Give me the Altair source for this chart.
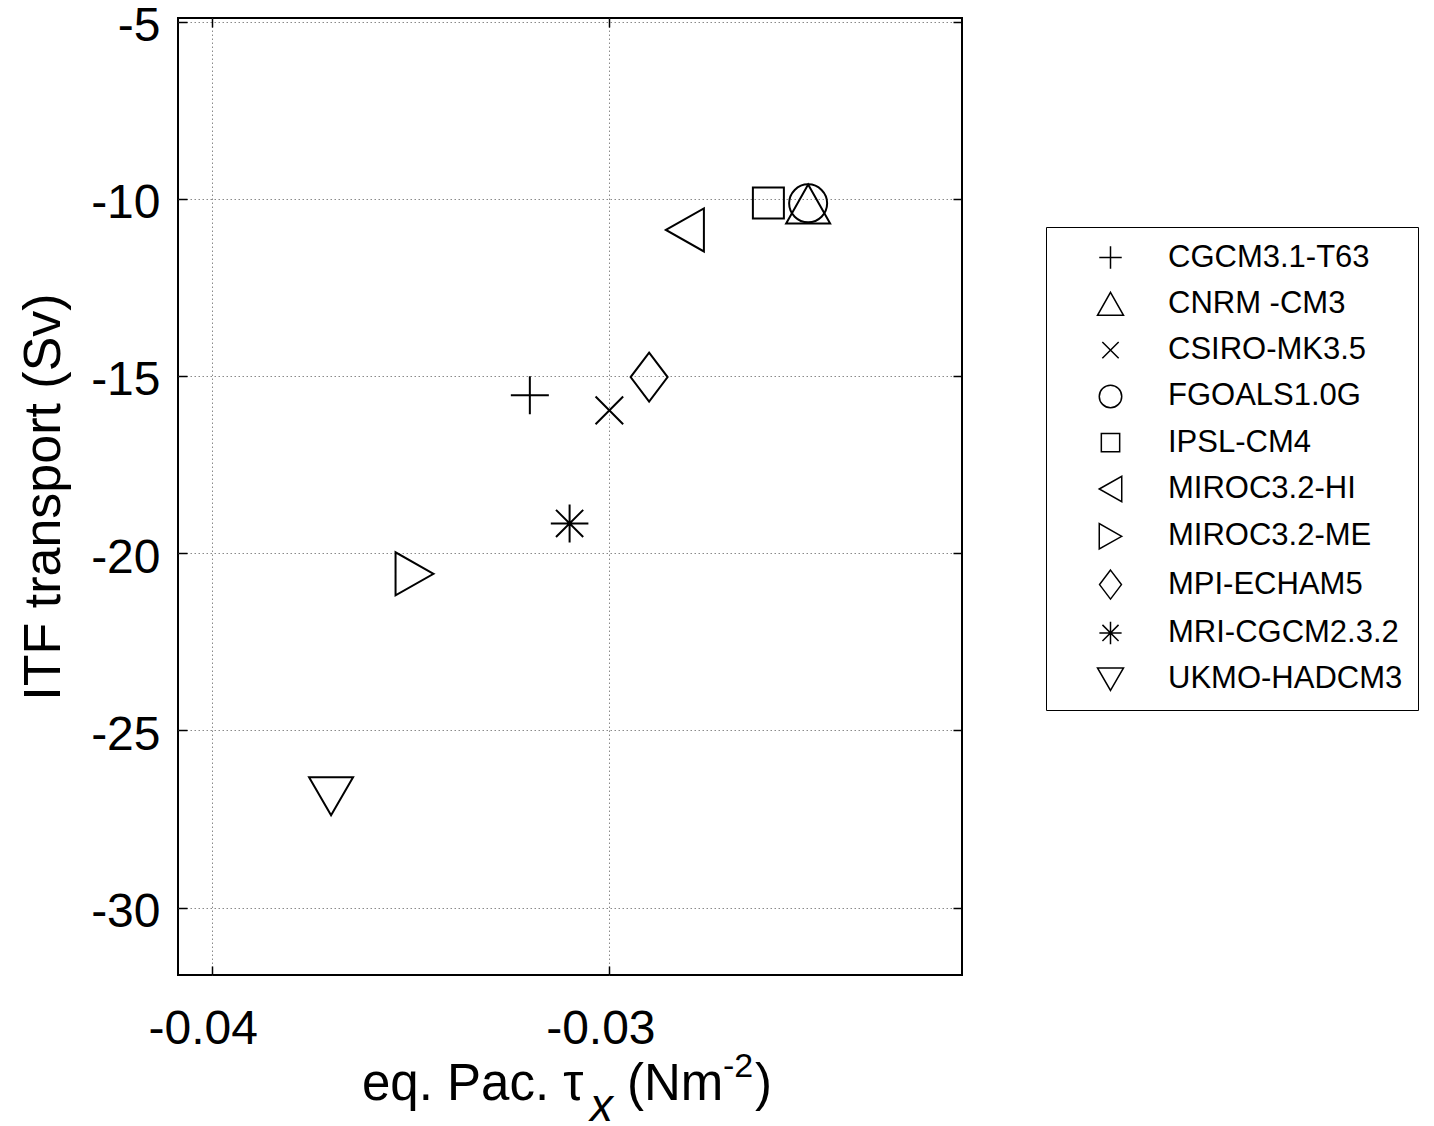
import altair as alt
import pandas as pd

models = ["CGCM3.1-T63", "CNRM -CM3", "CSIRO-MK3.5", "FGOALS1.0G", "IPSL-CM4",
          "MIROC3.2-HI", "MIROC3.2-ME", "MPI-ECHAM5", "MRI-CGCM2.3.2", "UKMO-HADCM3"]
tau_x = [-0.0320, -0.0250, -0.0300, -0.0250, -0.0260,
         -0.0281, -0.0349, -0.0290, -0.0310, -0.0370]
itf = [-15.54, -10.15, -15.97, -10.13, -10.12,
       -10.88, -20.58, -15.03, -19.16, -26.86]

x_ticks = [-0.04, -0.03]
y_ticks = [-30, -25, -20, -15, -10, -5]

shape_paths = [
    "M-0.95,0L0.95,0M0,-0.95L0,0.95",
    "M0,-0.975L1.1,0.975L-1.1,0.975Z",
    "M-0.69,-0.69L0.69,0.69M-0.69,0.69L0.69,-0.69",
    "M0.95,0A0.95,0.95,0,1,1,-0.95,0A0.95,0.95,0,1,1,0.95,0Z",
    "M-0.775,-0.775L0.775,-0.775L0.775,0.775L-0.775,0.775Z",
    "M-0.95,0L0.95,-1.075L0.95,1.075Z",
    "M0.95,0L-0.95,-1.075L-0.95,1.075Z",
    "M0,-1.225L0.925,0L0,1.225L-0.925,0Z",
    "M-0.94,0L0.94,0M0,-0.95L0,0.95M-0.68,-0.68L0.68,0.68M-0.68,0.68L0.68,-0.68",
    "M0,0.95L1.1,-0.95L-1.1,-0.95Z",
]

df = pd.DataFrame({"model": models, "tau": tau_x, "itf": itf})

FONT = "Liberation Sans"
W, H = 784, 957
xscale = alt.Scale(domain=[-0.04085, -0.02113], nice=False, zero=False)
yscale = alt.Scale(domain=[-31.9, -4.9], nice=False, zero=False)

points = alt.Chart(df).mark_point(
    filled=False, color="black", strokeWidth=2, size=1600, opacity=1
).encode(
    x=alt.X("tau:Q", scale=xscale, axis=alt.Axis(
        orient="bottom", values=x_ticks, labelExpr="datum.value + ''",
        grid=True, gridDash=[1.5, 2.5], gridColor="#8a8a8a", gridWidth=1,
        domain=False, ticks=True, tickSize=9, tickWidth=1.5, tickColor="black", offset=-9,
        labelPadding=30, labelOffset=-9, labelFontSize=48, labelFont=FONT, labelColor="black",
        title=None)),
    y=alt.Y("itf:Q", scale=yscale, axis=alt.Axis(
        orient="left", values=y_ticks, labelExpr="datum.value + ''",
        grid=True, gridDash=[1.5, 2.5], gridColor="#8a8a8a", gridWidth=1,
        domain=False, ticks=True, tickSize=9, tickWidth=1.5, tickColor="black", offset=-9,
        labelPadding=18, labelOffset=5, labelFontSize=48, labelFont=FONT, labelColor="black",
        title="ITF transport (Sv)", titleFontSize=52, titleFont=FONT,
        titleFontWeight="normal", titleColor="black", titlePadding=20)),
    shape=alt.Shape("model:N", scale=alt.Scale(domain=models, range=shape_paths),
                    legend=alt.Legend(
                        title=None, orient="none", legendX=868, legendY=209,
                        strokeColor="black", fillColor="white", padding=15,
                        symbolSize=560, symbolStrokeWidth=1.5, symbolStrokeColor="black",
                        symbolFillColor="transparent", symbolOffset=34, labelOffset=42,
                        rowPadding=14.3, labelFontSize=31, labelFont=FONT, labelColor="black",
                        labelLimit=400)),
)

frame_axes = alt.Chart(df).mark_point(opacity=0).encode(
    x=alt.X("tau:Q", scale=xscale, axis=alt.Axis(
        orient="top", values=x_ticks, labels=False, grid=False, domain=False,
        tickSize=9, tickWidth=1.5, tickColor="black", offset=-9, title=None)),
    y=alt.Y("itf:Q", scale=yscale, axis=alt.Axis(
        orient="right", values=y_ticks, labels=False, grid=False, domain=False,
        tickSize=9, tickWidth=1.5, tickColor="black", offset=-9, title=None)),
)

one = pd.DataFrame({"k": [0]})

def txt(s, x, y, size, italic=False):
    return alt.Chart(one).mark_text(
        text=s, align="left", baseline="alphabetic", fontSize=size, font=FONT,
        fontStyle="italic" if italic else "normal", color="black"
    ).encode(x=alt.value(x), y=alt.value(y))

xtitle = (txt("eq. Pac. \u03c4", 184, 1082, 51)
          + txt("x", 412, 1103, 46, italic=True)
          + txt("(Nm", 449, 1082, 51)
          + txt("-2", 545, 1059, 34)
          + txt(")", 577, 1082, 51))

chart = alt.layer(points, frame_axes, xtitle).resolve_axis(
    x="independent", y="independent"
).properties(
    width=W, height=H,
    background="white",
    autosize=alt.AutoSizeParams(type="none"),
    padding={"left": 178, "top": 18, "right": 472, "bottom": 151},
).configure_view(stroke="black", strokeWidth=2)

chart.save("out.html", embed_options={"renderer": "svg", "actions": False})
